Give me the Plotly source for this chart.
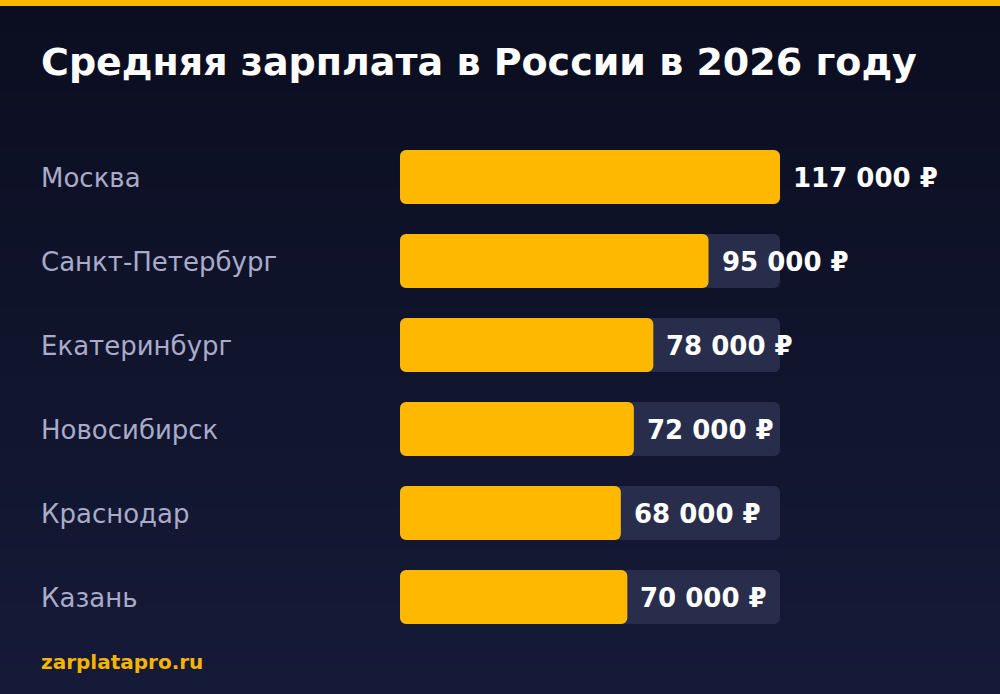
import plotly.graph_objects as go

# ---- data ----
cities = ["Москва", "Санкт-Петербург", "Екатеринбург", "Новосибирск", "Краснодар", "Казань"]
salaries = [117000, 95000, 78000, 72000, 68000, 70000]
value_labels = ["117 000 ₽", "95 000 ₽", "78 000 ₽", "72 000 ₽", "68 000 ₽", "70 000 ₽"]
title_text = "Средняя зарплата в России в 2026 году"
source_text = "zarplatapro.ru"

W, H = 1000, 694
ORANGE = "#FFB800"
TRACK = "#282d4c"
LABEL = "#a9abc8"

max_val = max(salaries)
idx = list(range(len(cities)))


def py(p):
    return 1 - p / H


fig = go.Figure()


def rounded_bars(values, color):
    # two overlapping halves so both ends get rounded corners
    fig.add_trace(go.Bar(
        y=idx, x=[v * 0.6 for v in values], base=[v * 0.4 for v in values],
        orientation="h", marker=dict(color=color, line=dict(width=0)), width=0.643,
        hoverinfo="skip", showlegend=False,
    ))
    fig.add_trace(go.Bar(
        y=idx, x=[-v * 0.6 for v in values], base=[v * 0.6 for v in values],
        orientation="h", marker=dict(color=color, line=dict(width=0)), width=0.643,
        hoverinfo="skip", showlegend=False,
    ))


rounded_bars([max_val] * len(cities), TRACK)
rounded_bars(salaries, ORANGE)

annotations = []
for i, (c, v, lab) in enumerate(zip(cities, salaries, value_labels)):
    annotations.append(dict(
        x=0.04, xref="paper", y=i, yref="y", text=c, showarrow=False,
        xanchor="left", yanchor="middle", xshift=-1, yshift=-1,
        font=dict(family="DejaVu Sans", size=26, color=LABEL),
    ))
    annotations.append(dict(
        x=v, xref="x", y=i, yref="y", text=lab, showarrow=False,
        xanchor="left", yanchor="middle", xshift=11, yshift=-1,
        font=dict(family="DejaVu Sans", size=26, color="#ffffff", weight="bold"),
    ))

annotations.append(dict(
    x=0.04, xref="paper", y=py(62), yref="paper", text="<b>" + title_text + "</b>",
    showarrow=False, xanchor="left", yanchor="middle", xshift=-1,
    font=dict(family="DejaVu Sans", size=38, color="#ffffff"),
))
annotations.append(dict(
    x=0.04, xref="paper", y=py(662), yref="paper", text="<b>" + source_text + "</b>",
    showarrow=False, xanchor="left", yanchor="middle", xshift=-1,
    font=dict(family="DejaVu Sans", size=20, color="#f5b400"),
))

# background gradient strips
shapes = []
top = (11, 14, 32)
bot = (21, 26, 56)
N = 70
for k in range(N):
    t = k / (N - 1)
    col = tuple(round(top[j] + (bot[j] - top[j]) * t) for j in range(3))
    shapes.append(dict(
        type="rect", xref="paper", yref="paper", layer="below",
        x0=0, x1=1, y0=py(H * (k + 1) / N) - 0.002, y1=py(H * k / N),
        fillcolor="rgb(%d,%d,%d)" % col, line=dict(width=0),
    ))
shapes.append(dict(
    type="rect", xref="paper", yref="paper", layer="above",
    x0=0, x1=1, y0=py(6), y1=1.0, fillcolor=ORANGE, line=dict(width=0),
))

y_top = -177 / 84
y_bot = (H - 177) / 84

fig.update_layout(
    width=W, height=H,
    margin=dict(l=0, r=0, t=0, b=0),
    paper_bgcolor="#0f1228", plot_bgcolor="rgba(0,0,0,0)",
    barmode="overlay", barcornerradius=6,
    xaxis=dict(domain=[0.4, 0.78], range=[0, max_val], visible=False, fixedrange=True),
    yaxis=dict(domain=[0, 1], range=[y_bot, y_top], visible=False, fixedrange=True),
    shapes=shapes, annotations=annotations,
    showlegend=False,
)

fig.write_html(
    "out.html",
    config={"displayModeBar": False},
    post_script="document.body.style.margin='0';document.body.style.background='#0b0e20';",
)
